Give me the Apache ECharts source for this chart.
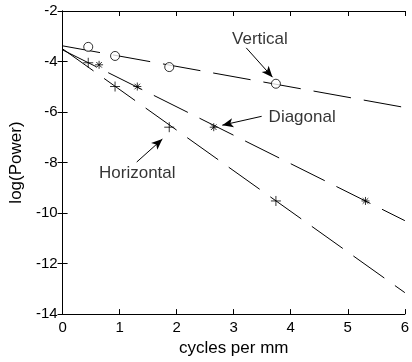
<!DOCTYPE html>
<html>
<head>
<meta charset="utf-8">
<script src="https://cdn.jsdelivr.net/npm/echarts@6/dist/echarts.min.js"></script>
<style>
html, body { margin: 0; padding: 0; background: #fff; }
#chart { width: 412px; height: 362px; }
</style>
</head>
<body>
<div id="chart"></div>
<script>
// measured points (cycles per mm, log power)
var verticalPts = [[0.45, -3.42], [0.92, -3.78], [1.87, -4.22], [3.74, -4.88]];
var horizontalPts = [[0.45, -4.05], [0.92, -4.99], [1.87, -6.6], [3.74, -9.52]];
var diagonalPts = [[0.64, -4.13], [1.31, -4.99], [2.65, -6.6], [5.31, -9.52]];

// fitted lines, end points
var verticalFit = [[0, -3.38], [6, -5.82]];
var horizontalFit = [[0, -3.5], [6, -13.15]];
var diagonalFit = [[0, -3.54], [6, -10.3]];

// annotations: label position and arrow from -> to (data coords)
var notes = [
    { name: 'Vertical', at: [3.46, -3.14], from: [3.22, -3.46], to: [3.68, -4.62] },
    { name: 'Diagonal', at: [4.2, -6.21], from: [3.49, -6.17], to: [2.8, -6.52] },
    { name: 'Horizontal', at: [1.31, -8.41], from: [1.3, -7.98], to: [1.75, -7.07] }
];

var xTicks = [0, 1, 2, 3, 4, 5, 6];
var yTicks = [-14, -12, -10, -8, -6, -4, -2];

var font = 'Liberation Sans, Arial, sans-serif';
var plusPath = 'path://M0,5L10,5M5,0L5,10';
var starPath = 'path://M0,5L10,5M5,0L5,10M1.5,1.5L8.5,8.5M8.5,1.5L1.5,8.5';

var myChart = echarts.init(document.getElementById('chart'));

function fitLine(d) {
    return {
        type: 'line',
        data: d,
        symbol: 'none',
        silent: true,
        lineStyle: { color: '#000', width: 1, type: [38, 13] },
        z: 2
    };
}

function pts(d, sym, size, fill) {
    return {
        type: 'scatter',
        data: d,
        symbol: sym,
        symbolSize: size,
        itemStyle: { color: fill, borderColor: '#000', borderWidth: 1 },
        z: 3
    };
}

var axisCommon = {
    axisLine: { show: true, lineStyle: { color: '#000', width: 1 } },
    axisTick: { show: true, inside: true, length: 5, lineStyle: { color: '#000' } },
    splitLine: { show: false }
};

option = {
    animation: false,
    backgroundColor: '#fff',
    textStyle: { fontFamily: font },
    grid: { left: 62, right: 3, top: 11, bottom: 46 },
    xAxis: [
        Object.assign({
            type: 'value', min: xTicks[0], max: xTicks[xTicks.length - 1], interval: 1,
            name: 'cycles per mm', nameLocation: 'middle', nameGap: 24,
            nameTextStyle: { color: '#000', fontSize: 17, fontFamily: font },
            axisLabel: { color: '#000', fontSize: 15, margin: 6, fontFamily: font }
        }, axisCommon),
        Object.assign({
            type: 'value', position: 'top', min: xTicks[0], max: xTicks[xTicks.length - 1], interval: 1,
            axisLabel: { show: false }
        }, axisCommon)
    ],
    yAxis: [
        Object.assign({
            type: 'value', min: yTicks[0], max: yTicks[yTicks.length - 1], interval: 2,
            name: 'log(Power)', nameLocation: 'middle', nameGap: 32,
            nameTextStyle: { color: '#000', fontSize: 17, fontFamily: font },
            axisLabel: { color: '#000', fontSize: 15, margin: 5, fontFamily: font }
        }, axisCommon),
        Object.assign({
            type: 'value', position: 'right', min: yTicks[0], max: yTicks[yTicks.length - 1], interval: 2,
            axisLabel: { show: false }
        }, axisCommon)
    ],
    series: [
        fitLine(verticalFit),
        fitLine(horizontalFit),
        fitLine(diagonalFit),
        pts(verticalPts, 'circle', 9, '#fff'),
        pts(horizontalPts, plusPath, 10, 'none'),
        pts(diagonalPts, starPath, 8, 'none'),
        {
            type: 'scatter',
            data: notes.map(function (n) { return { name: n.name, value: n.at }; }),
            symbolSize: 0,
            silent: true,
            label: {
                show: true, position: 'inside', formatter: '{b}',
                color: '#000', fontSize: 17, fontFamily: font
            },
            markLine: {
                silent: true,
                symbol: ['none', 'arrow'],
                symbolSize: [7, 11],
                label: { show: false },
                lineStyle: { color: '#000', width: 1, type: 'solid' },
                data: notes.map(function (n) {
                    return [{ coord: n.from }, { coord: n.to }];
                })
            }
        }
    ]
};

myChart.setOption(option);
</script>
</body>
</html>
